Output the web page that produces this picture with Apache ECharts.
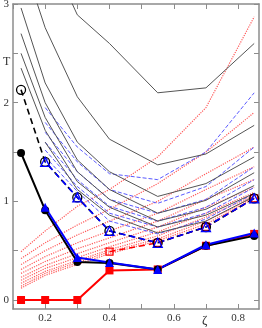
<!DOCTYPE html>
<html>
<head>
<meta charset="utf-8">
<script src="https://cdn.jsdelivr.net/npm/echarts@6/dist/echarts.min.js"></script>
<style>
html,body{margin:0;padding:0;background:#fff;}
#c{width:262px;height:328px;}
</style>
</head>
<body>
<div id="c"></div>
<script>
// x positions (zeta)
const zeta = [0.125, 0.2, 0.3, 0.4, 0.55, 0.7, 0.85];
// tick values / labels
const xTicks = [0.1, 0.2, 0.3, 0.4, 0.5, 0.6, 0.7, 0.8];
const xLabels = [0.2, 0.4, 0.6, 0.8];
const yTicks = [0, 0.5, 1, 1.5, 2, 2.5, 3];
const yLabels = [0, 1, 2, 3];

// main series
const blackFilled = [1.49, 0.91, 0.385, 0.375, 0.31, 0.55, 0.65];
const blueFilled  = [null, 0.94, 0.43, 0.38, 0.31, 0.56, 0.68];
const redFilled   = [0, 0, 0, 0.30, 0.31, 0.55, 0.67];
const blackOpen   = [2.13, 1.40, 1.04, 0.70, 0.58, 0.74, 1.03];
const blueOpen    = [null, 1.40, 1.04, 0.70, 0.58, 0.74, 1.03];
const redOpen     = [null, null, null, 0.49, 0.58, 0.74, 1.03];

// gray solid family
const gray1 = [4.5, 3.6, 2.89, 2.60, 2.10, 2.15, 2.60];
const gray2 = [3.5, 2.76, 2.06, 1.63, 1.37, 1.48, 1.77];
const gray3 = [2.96, 2.2, 1.6, 1.3, 1.05, 1.18, 1.45];
const gray4 = [2.70, 2.0, 1.42, 1.12, 0.88, 1.01, 1.29];
const gray5 = [2.50, 1.85, 1.30, 1.02, 0.80, 0.92, 1.16];
const gray6 = [2.35, 1.72, 1.20, 0.94, 0.74, 0.86, 1.08];
const gray7 = [null, 1.60, 1.12, 0.86, 0.68, 0.80, 1.05];

// blue dashed family
const blue1 = [null, 1.95, 1.55, 1.28, 1.22, 1.50, 2.10];
const blue2 = [null, 1.80, 1.40, 1.12, 0.98, 1.15, 1.55];
const blue3 = [null, 1.70, 1.30, 1.02, 0.88, 1.02, 1.35];
const blue4 = [null, 1.60, 1.22, 0.95, 0.80, 0.94, 1.22];
const blue5 = [null, 1.52, 1.15, 0.88, 0.74, 0.88, 1.14];
const blue6 = [null, 1.45, 1.10, 0.80, 0.67, 0.82, 1.08];

// red dotted family
const red1  = [0.49, 0.70, 0.95, 1.12, 1.45, 1.95, 2.87];
const red2  = [0.42, 0.58, 0.76, 0.92, 1.18, 1.50, 1.90];
const red3  = [0.36, 0.50, 0.66, 0.80, 1.00, 1.28, 1.55];
const red4  = [0.31, 0.44, 0.58, 0.70, 0.88, 1.12, 1.35];
const red5  = [0.27, 0.39, 0.52, 0.63, 0.80, 1.02, 1.22];
const red6  = [0.23, 0.35, 0.47, 0.58, 0.74, 0.94, 1.14];
const red7  = [0.20, 0.32, 0.43, 0.54, 0.69, 0.88, 1.09];
const red8  = [0.17, 0.29, 0.40, 0.51, 0.65, 0.84, 1.06];
const red9  = [0.14, 0.27, 0.38, 0.49, 0.62, 0.80, 1.04];
const red10 = [0.12, 0.25, 0.36, 0.47, 0.60, 0.77, 1.03];

const grayFam = [gray1, gray2, gray3, gray4, gray5, gray6, gray7];
const blueFam = [blue1, blue2, blue3, blue4, blue5, blue6];
const redFam = [red1, red2, red3, red4, red5, red6, red7, red8, red9, red10];

function pts(arr){ return zeta.map((x,i)=>[x, arr[i]]).filter(p=>p[1]!==null); }

const axisColor = '#8c8c8c';
const font = 'Liberation Serif';
const textColor = '#333';

function famSeries(arr, color, type, width){
  return {
    type:'line', data:pts(arr), symbol:'none', silent:true,
    lineStyle:{color:color, width:width, type:type}, z:1
  };
}

const series = [];
redFam.forEach(a=>series.push(famSeries(a,'#ff5a5a','dotted',1.2)));
blueFam.forEach(a=>series.push(famSeries(a,'#5a5aff',[4,2],1)));
grayFam.forEach(a=>series.push(famSeries(a,'#555555','solid',1)));

function mainSeries(arr, color, symbol, size, filled, dashed, width, offset){
  return {
    type:'line', data:pts(arr), symbol:symbol, symbolSize:size, z:5,
    lineStyle:{color:color, width:width, type: dashed ? [6,4] : 'solid', dashOffset: offset || 0},
    itemStyle: filled ? {color:color} : {color:'rgba(255,255,255,0)', borderColor:color, borderWidth:1.3}
  };
}
series.push(mainSeries(redOpen,'#ff0000','rect',7,false,true,1.5,0));
series.push(mainSeries(blackOpen,'#000000','circle',9,false,true,1.6,0));
series.push(mainSeries(blueOpen,'#0000ff','triangle',9,false,true,1.6,5));
series.push(mainSeries(redFilled,'#ff0000','rect',8,true,false,2));
series.push(mainSeries(blackFilled,'#000000','circle',8,true,false,2));
series.push(mainSeries(blueFilled,'#0000ff','triangle',9,true,false,2));

const chart = echarts.init(document.getElementById('c'), null, {renderer:'canvas'});
chart.setOption({
  animation:false,
  backgroundColor:'#fff',
  grid:{left:13, top:4, right:3, bottom:19, containLabel:false, outerBoundsMode:'none'},
  xAxis:[{
    type:'value', min:0.1, max:0.865, position:'bottom',
    axisLine:{show:true, onZero:false, lineStyle:{color:axisColor, width:1.5}},
    axisTick:{show:true, inside:true, length:5, customValues:xTicks, lineStyle:{color:axisColor}},
    axisLabel:{show:true, customValues:xLabels, margin:4, color:textColor, fontFamily:font, fontSize:11,
      formatter:v=>v.toFixed(1)},
    splitLine:{show:false}
  },{
    type:'value', min:0.1, max:0.865, position:'top',
    axisLine:{show:true, onZero:false, lineStyle:{color:axisColor, width:1.5}},
    axisTick:{show:true, inside:true, length:5, customValues:xTicks, lineStyle:{color:axisColor}},
    axisLabel:{show:false}, splitLine:{show:false}
  }],
  yAxis:[{
    type:'value', min:-0.091, max:3, position:'left',
    axisLine:{show:true, onZero:false, lineStyle:{color:axisColor, width:1.5}},
    axisTick:{show:true, inside:true, length:5, customValues:yTicks, lineStyle:{color:axisColor}},
    axisLabel:{show:true, customValues:yLabels, margin:4, color:textColor, fontFamily:font, fontSize:11},
    splitLine:{show:false}
  },{
    type:'value', min:-0.091, max:3, position:'right',
    axisLine:{show:true, onZero:false, lineStyle:{color:axisColor, width:1.5}},
    axisTick:{show:true, inside:true, length:5, customValues:yTicks, lineStyle:{color:axisColor}},
    axisLabel:{show:false}, splitLine:{show:false}
  }],
  graphic:[
    {type:'text', left:3, top:56, style:{text:'T', font:'12px "Liberation Serif"', fill:textColor}},
    {type:'text', left:202, top:314, style:{text:'ζ', font:'13px "Liberation Serif"', fill:textColor}}
  ],
  series:series
});
</script>
</body>
</html>
